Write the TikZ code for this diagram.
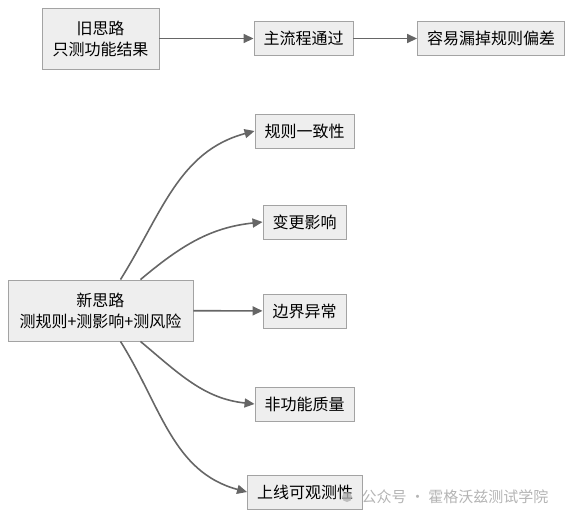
\documentclass[tikz,border=0pt]{standalone}
\usepackage{fontspec}
\setmainfont{Noto Sans CJK SC}
\usetikzlibrary{arrows.meta}
\definecolor{boxfill}{HTML}{EEEEEE}
\definecolor{boxline}{HTML}{A3A3A3}
\definecolor{linkgray}{HTML}{666666}
\newcommand{\padsize}{9.5pt}

\begin{document}
\begin{tikzpicture}[x=1pt,y=-1pt,
    idea/.style={draw=boxline, line width=.9pt, fill=boxfill, inner xsep=\padsize,
      minimum height=34pt, font=\fontsize{16}{21}\selectfont, align=center},
    link/.style={draw=linkgray, line width=1.6pt, -{Triangle[length=10pt,width=9pt]}}]

        \useasboundingbox (0,0) rectangle (574,520);

        % old idea, top row
        \node (old) at (100.5,38.5) [idea, minimum width=117pt, minimum height=61pt] {旧思路\\只测功能结果};
        \node (mainflow) at (303.5,38.5) [idea] {主流程通过};
        \node (miss) at (491,38.5) [idea] {容易漏掉规则偏差};
        \draw[link] (old) -- (mainflow);
        \draw[link] (mainflow) -- (miss);

        % new idea and its branches
        \node (new) at (100.5,310.5) [idea, minimum width=185pt, minimum height=61pt] {新思路\\测规则+测影响+测风险};
        \node (rules) at (304.5,131) [idea] {规则一致性};
        \node (change) at (304.5,222) [idea] {变更影响};
        \node (edge) at (304.5,311) [idea] {边界异常};
        \node (nonfunc) at (304.5,404) [idea] {非功能质量};
        \node (observe) at (305,492) [idea] {上线可观测性};
        \draw[link] ([xshift=20pt]new.north) to[out=58,in=195] (rules.west);
        \draw[link] ([xshift=40pt]new.north) to[out=40,in=186] (change.west);
        \draw[link] (new) -- (edge);
        \draw[link] ([xshift=40pt]new.south) to[out=-40,in=174] (nonfunc.west);
        \draw[link] ([xshift=20pt]new.south) to[out=-58,in=165] (observe.west);

       % watermark
        \fill[gray!60, opacity=.8] (347,497) circle (5pt);
        \node (mark) at (455,497) [text=gray!65, opacity=.9, font=\fontsize{15}{18}\selectfont] {公众号 · 霍格沃兹测试学院};
\end{tikzpicture}
\end{document}
